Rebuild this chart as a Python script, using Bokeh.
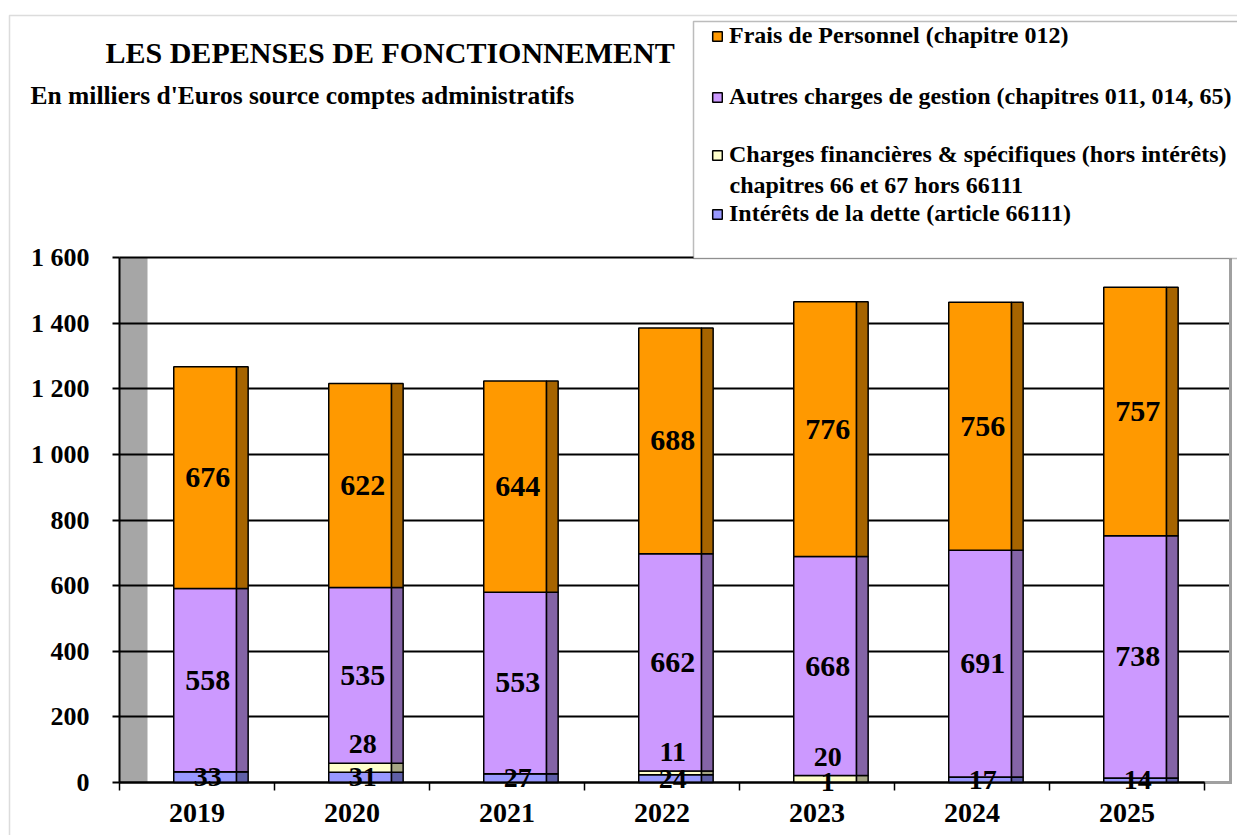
import numpy as np
from bokeh.plotting import figure
from bokeh.models import (Range1d, FixedTicker, Label, Legend, LegendItem,
                          BoxAnnotation, ColumnDataSource)
from bokeh.core.properties import value
from bokeh.embed import file_html
from bokeh.resources import INLINE

# ---------------- data ----------------
years = ["2019", "2020", "2021", "2022", "2023", "2024", "2025"]
personnel = [676, 622, 644, 688, 776, 756, 757]
autres = [558, 535, 553, 662, 668, 691, 738]
charges_fin = [0, 28, 0, 11, 20, 0, 0]
interets = [33, 31, 27, 24, 1, 17, 14]
y_ticks = [0, 200, 400, 600, 800, 1000, 1200, 1400, 1600]
y_tick_labels = ["0", "200", "400", "600", "800", "1 000", "1 200", "1 400", "1 600"]

series_names = [
    "Intérêts de la dette (article 66111)",
    "Charges financières & spécifiques (hors intérêts)",
    "Autres charges de gestion (chapitres 011, 014, 65)",
    "Frais de Personnel (chapitre 012)",
]
front_colors = ["#9999FF", "#FFFFCC", "#CC99FF", "#FF9900"]
side_colors = ["#5F5FA8", "#A6A685", "#8464A6", "#A66400"]

FONT_NAME = "Liberation Serif"
FONT = value(FONT_NAME)

# ---------------- layout geometry (canvas px) ----------------
W, H = 1237, 835
AX_X, TOP_Y, BASE_Y = 119, 257, 782   # y-axis x, 1600 line y, 0 line y
CAT_PX = 155.0                        # pixels per category
WALL_X = 1230                         # right back-wall edge
YMAX = 1600
PX_PER_UNIT = (BASE_Y - TOP_Y) / YMAX

def xd(cx):   # canvas x -> data x
    return -0.5 + (cx - AX_X) / CAT_PX

def yd(cy):   # canvas y -> data y
    return (BASE_Y - cy) / PX_PER_UNIT

p = figure(width=W, height=H, output_backend="svg", toolbar_location=None,
           x_range=Range1d(xd(0), xd(W)), y_range=Range1d(yd(H), yd(0)),
           min_border=0, min_border_left=0, min_border_right=0,
           min_border_top=0, min_border_bottom=0)
p.extra_x_ranges = {"px": Range1d(0, W)}
p.extra_y_ranges = {"px": Range1d(H, 0)}
p.outline_line_color = None
p.background_fill_color = "white"
p.border_fill_color = "white"

p.xgrid.visible = False
p.ygrid.ticker = FixedTicker(ticks=y_ticks)
p.ygrid.grid_line_color = "black"
p.ygrid.grid_line_width = 2
p.ygrid.cross_bounds = (-0.5, xd(WALL_X))

# outer chart-area border
p.add_layout(BoxAnnotation(left=9, right=W + 50, top=15, bottom=H + 50,
                           x_range_name="px", y_range_name="px",
                           fill_alpha=0, line_color="#8C8C8C", line_width=1.5,
                           level="underlay"))

# left grey wall (3D depth)
p.quad(left=-0.5, right=xd(AX_X + 28), bottom=0, top=YMAX,
       fill_color="#A6A6A6", line_color=None, level="image")
# right back-wall edge and floor edge
p.add_layout(BoxAnnotation(left=WALL_X - 1.5, right=WALL_X + 1.5,
                           top=TOP_Y, bottom=BASE_Y + 1,
                           x_range_name="px", y_range_name="px",
                           fill_color="#A0A0A0", fill_alpha=1, line_color=None,
                           level="underlay"))
p.add_layout(BoxAnnotation(left=AX_X + len(years) * CAT_PX, right=WALL_X + 1.5,
                           top=BASE_Y - 1.5, bottom=BASE_Y + 1.5,
                           x_range_name="px", y_range_name="px",
                           fill_color="#A0A0A0", fill_alpha=1, line_color=None,
                           level="underlay"))

yax = p.yaxis[0]
yax.fixed_location = -0.5
yax.ticker = FixedTicker(ticks=y_ticks)
yax.major_label_overrides = {t: l for t, l in zip(y_ticks, y_tick_labels)}
yax.bounds = (0, YMAX)
yax.axis_line_color = "black"
yax.axis_line_width = 2
yax.major_tick_out = 7
yax.major_tick_in = 0
yax.major_tick_line_width = 2
yax.minor_tick_line_color = None
yax.major_label_standoff = 23
yax.major_label_text_font = FONT_NAME
yax.major_label_text_font_style = "bold"
yax.major_label_text_font_size = "26px"
yax.major_label_text_color = "black"

xs = np.arange(len(years), dtype=float)
xax = p.xaxis[0]
xax.fixed_location = 0
xax.ticker = FixedTicker(ticks=list(xs), minor_ticks=list(np.arange(-0.5, len(years), 1.0)))
xax.major_label_overrides = {float(i): y for i, y in enumerate(years)}
xax.bounds = (-0.5, len(years) - 0.5)
xax.axis_line_color = "black"
xax.axis_line_width = 2
xax.major_tick_line_color = None
xax.major_tick_out = 0
xax.major_tick_in = 0
xax.minor_tick_out = 8
xax.minor_tick_in = 0
xax.minor_tick_line_color = "black"
xax.minor_tick_line_width = 1.5
xax.major_label_standoff = 13
xax.major_label_text_font = FONT_NAME
xax.major_label_text_font_style = "bold"
xax.major_label_text_font_size = "28px"
xax.major_label_text_color = "black"

# ---------------- stacked 3D bars ----------------
stack = [np.array(interets, float), np.array(charges_fin, float),
         np.array(autres, float), np.array(personnel, float)]
bottoms = []
renderers = []
acc = np.zeros(len(years))
for vals, fc, sc in zip(stack, front_colors, side_colors):
    bot = acc.copy()
    top = acc + vals
    bottoms.append((bot, top))
    src = ColumnDataSource(dict(fl=xs - 0.15, fr=xs + 0.255, sr=xs + 0.33,
                                bot=bot, top=top))
    r = p.quad(left="fl", right="fr", bottom="bot", top="top", source=src,
               fill_color=fc, line_color="black", line_width=1.5)
    p.quad(left="fr", right="sr", bottom="bot", top="top", source=src,
           fill_color=sc, line_color="black", line_width=1.5)
    renderers.append(r)
    acc = top

lx = xs + 0.07
for idx in (2, 3):
    bot, top = bottoms[idx]
    p.text(x=lx, y=(bot + top) / 2, text=[str(int(v)) for v in stack[idx]],
           text_font=FONT, text_font_style="bold", text_font_size="30px",
           text_align="center", text_baseline="middle", text_color="black")
bot, top = bottoms[0]
p.text(x=lx, y=(bot + top) / 2, text=[str(v) for v in interets],
       text_font=FONT, text_font_style="bold", text_font_size="28px",
       text_align="center", text_baseline="middle", text_color="black")
bot, top = bottoms[1]
keep = [i for i, v in enumerate(charges_fin) if v > 0]
p.text(x=lx[keep], y=top[keep], text=[str(charges_fin[i]) for i in keep],
       y_offset=-19,
       text_font=FONT, text_font_style="bold", text_font_size="28px",
       text_align="center", text_baseline="middle", text_color="black")

# ---------------- titles ----------------
p.add_layout(Label(x=105, y=52, x_range_name="px", y_range_name="px",
                   text="LES DEPENSES DE FONCTIONNEMENT",
                   text_font=FONT_NAME, text_font_style="bold",
                   text_font_size="30px", text_baseline="middle",
                   text_color="black"))
p.add_layout(Label(x=30, y=95, x_range_name="px", y_range_name="px",
                   text="En milliers d'Euros source comptes administratifs",
                   text_font=FONT_NAME, text_font_style="bold",
                   text_font_size="25.5px", text_baseline="middle",
                   text_color="black"))

# ---------------- legend ----------------
p.add_layout(BoxAnnotation(left=693, right=W + 50, top=21, bottom=258,
                           x_range_name="px", y_range_name="px",
                           fill_color="white", fill_alpha=1,
                           line_color="#222222", line_width=1.5))
legend_rows = [(3, 37), (2, 98), (1, 156), (0, 215)]   # (series, centre y px)
for si, cy in legend_rows:
    lg = Legend(items=[LegendItem(label=series_names[si],
                                  renderers=[renderers[si]])],
                location=(711, H - (cy + 12)), orientation="vertical",
                padding=0, margin=0, spacing=0, border_line_color=None,
                background_fill_alpha=0, glyph_width=12, glyph_height=12,
                label_height=24, label_standoff=6,
                label_text_font=FONT_NAME, label_text_font_style="bold",
                label_text_font_size="24px", label_text_color="black",
                label_text_baseline="middle")
    p.add_layout(lg)
p.add_layout(Label(x=729, y=184, x_range_name="px", y_range_name="px",
                   text="chapitres 66 et 67 hors 66111",
                   text_font=FONT_NAME, text_font_style="bold",
                   text_font_size="24px", text_baseline="middle",
                   text_color="black"))

open("out.html", "w").write(file_html(p, INLINE))
